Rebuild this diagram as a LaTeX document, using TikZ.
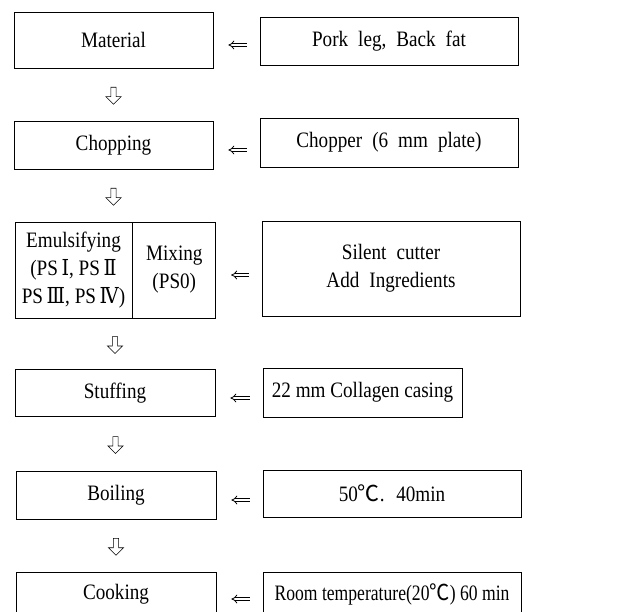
\documentclass[tikz,border=0pt]{standalone}
\usepackage{fontspec}
\setmainfont{Liberation Serif}[FakeStretch=0.87]
\newfontfamily\symfont{DejaVu Serif}[FakeStretch=0.87]
\newfontfamily\cjk{Noto Sans CJK KR}
\newcommand\romn[1]{{\symfont #1}}
\newcommand\degc{{\cjk ℃}}
\newcommand\widespace{\spaceskip=10pt plus 2pt minus 1pt\relax}
\usetikzlibrary{positioning, arrows.meta, calc, shapes.arrows}

\tikzset{
  stage/.style={draw, line width=0.8pt, minimum width=199pt, minimum height=48pt,
                inner sep=2pt, align=center, font=\fontsize{22}{28}\selectfont},
  source/.style={stage, minimum width=258pt},
  wide/.style={font=\fontsize{22}{28}\selectfont\widespace},
  downarr/.style={draw, line width=0.6pt, shape=single arrow, shape border rotate=270,
                  minimum height=17pt, minimum width=15pt, single arrow head extend=5pt,
                  inner sep=2.3pt},
  feed/.style={-{Implies}, double, double distance=2.2pt, line width=0.8pt,
               shorten >=15pt, shorten <=13pt},
}

\begin{document}
\begin{tikzpicture}[x=1pt, y=-1pt]
\clip (0,0) rectangle (634,612);
% process steps
\node[stage, minimum height=56pt] (mat) at (113.5,40) {Material};
\node[stage] (chop) at (113.5,145) {Chopping};
\node[stage, minimum width=117pt, minimum height=96pt] (emul) at (73.5,270)
    {Emulsifying\\(PS\,\romn{Ⅰ}, PS\,\romn{Ⅱ}\\PS\,\romn{Ⅲ}, PS\,\romn{Ⅳ})};
\node[stage, minimum width=83pt, minimum height=96pt, right=0pt of emul] (mix) {Mixing\\(PS0)};
\node[stage, minimum width=200pt, minimum height=47pt] (stuff) at (115,393) {Stuffing};
\node[stage, minimum width=200pt] (boil) at (116,495) {Boiling};
\node[stage, minimum width=200pt, minimum height=44pt] (cook) at (116,594) {Cooking};
% conditions
\node[source, wide] (pork) at (389,41) {Pork leg, Back fat};
\node[source, wide, minimum height=49pt] (chopper) at (389,142.5) {Chopper (6 mm plate)};
\node[source, wide, minimum height=95pt] (cutter) at (391,268.5) {Silent cutter\\Add Ingredients};
\node[source, minimum width=199pt, minimum height=49pt] (casing) at (362.5,392.5) {22 mm Collagen casing};
\node[source, wide, minimum height=47pt] (temp) at (392,493.5) {50\degc. 40min};
\node[source, minimum height=44pt] (room) at (392,594)
    {\scalebox{0.92}[1]{Room temperature(20\degc) 60 min}};
% flow
\foreach \a/\b in {mat/chop, stuff/boil, boil/cook}
  \path (\a.south) -- node[downarr] {} (\b.north);
\path (chop.south) -- node[downarr] {} (chop.south |- emul.north);
\path (emul.south -| stuff.north) -- node[downarr] {} (stuff.north);
\foreach \src/\dst in {pork/mat, chopper/chop, cutter/mix, casing/stuff, temp/boil, room/cook}
  \draw[feed] ([yshift=-5pt]\dst.east -| \src.west) -- ([yshift=-5pt]\dst.east);
\end{tikzpicture}
\end{document}
